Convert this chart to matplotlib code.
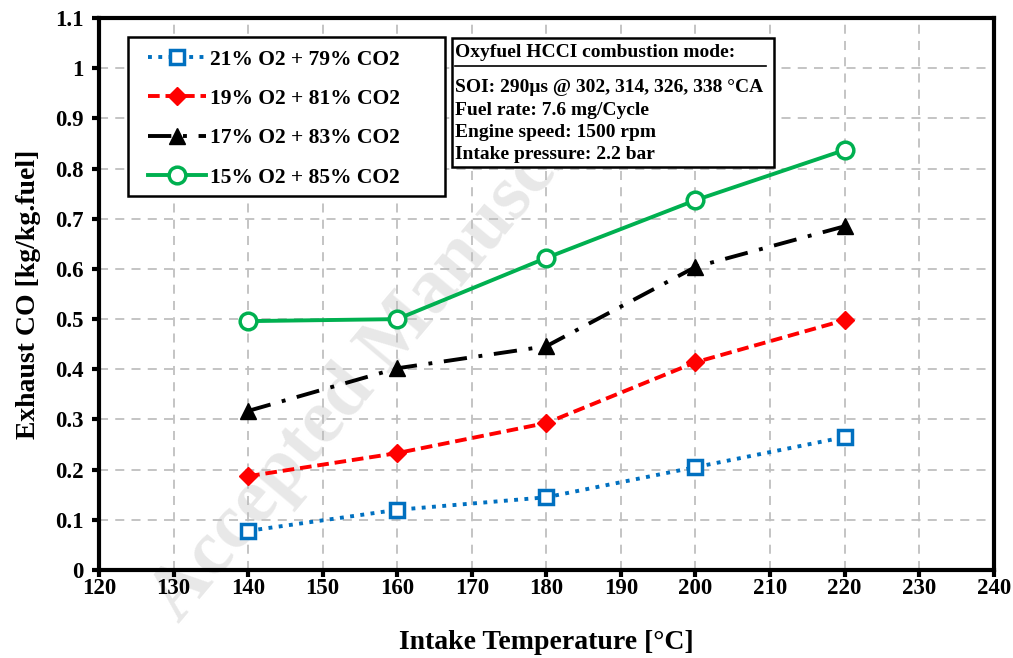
import matplotlib
matplotlib.use("Agg")
from matplotlib import pyplot as plt

plt.rcParams['font.family'] = ['Liberation Serif', 'DejaVu Serif']
plt.rcParams['font.weight'] = 'bold'

# Data.
temps = [140, 160, 180, 200, 220]
co_21 = [0.078, 0.120, 0.145, 0.205, 0.265]
co_19 = [0.187, 0.233, 0.293, 0.414, 0.498]
co_17 = [0.317, 0.402, 0.446, 0.604, 0.685]
co_15 = [0.496, 0.500, 0.622, 0.737, 0.837]

labels = ['21% O2 + 79% CO2', '19% O2 + 81% CO2',
          '17% O2 + 83% CO2', '15% O2 + 85% CO2']

fig = plt.figure(figsize=(10.13, 6.58), dpi=100)
ax = fig.add_axes([0.0977, 0.1337, 0.8833, 0.8389])

# faint watermark, behind the data
ax.text(0.33, 0.42, 'Accepted Manuscript', transform=ax.transAxes, fontsize=56,
        color='#e8e8e8', rotation=50, ha='center', va='center', zorder=0.5,
        clip_on=False)

ax.plot(temps, co_21, color='#0070c0', ls=':', lw=2.8, marker='s', ms=10,
        mfc='white', mec='#0070c0', mew=2.5, label=labels[0], zorder=3)
ax.plot(temps, co_19, color='#ff0000', ls=(0, (3, 1.5)), lw=2.8, marker='D', ms=9,
        mfc='#ff0000', mec='#ff0000', label=labels[1], zorder=3)
ax.plot(temps, co_17, color='black', ls=(0, (6, 3, 1, 3)), lw=2.8, marker='^', ms=11,
        label=labels[2], zorder=3)
ax.plot(temps, co_15, color='#00b050', ls='-', lw=2.8, marker='o', ms=12,
        mfc='white', mec='#00b050', mew=2.5, label=labels[3], zorder=3)

ax.set_xlim(120, 240)
ax.set_ylim(0, 1.1)
ax.set_xticks(range(120, 241, 10))
ax.set_yticks([i / 10 for i in range(12)])
ax.set_yticklabels(['0', '0.1', '0.2', '0.3', '0.4', '0.5', '0.6', '0.7',
                    '0.8', '0.9', '1', '1.1'])
ax.tick_params(axis='both', labelsize=16.5, direction='out', length=5, width=3)
ax.tick_params(axis='x', pad=1)
ax.tick_params(axis='y', pad=6)
ax.grid(True, color='#bfbfbf', ls=(0, (5, 4)), lw=1.3)
for s in ax.spines.values():
    s.set_linewidth(3)

ax.set_xlabel('Intake Temperature [°C]', fontsize=20, fontweight='bold', labelpad=22)
ax.set_ylabel('Exhaust CO [kg/kg.fuel]', fontsize=20, fontweight='bold', labelpad=10)

# legend box drawn separately so its padding matches
ax.add_patch(plt.Rectangle((0.0324, 0.6775), 0.3542, 0.2881, transform=ax.transAxes,
                           facecolor='white', edgecolor='black', lw=1.8, zorder=4))
leg = ax.legend(loc='upper left', bbox_to_anchor=(0.0545, 0.943), fontsize=15.5,
                frameon=False, handlelength=2.7, labelspacing=0.9, borderpad=0,
                borderaxespad=0, handletextpad=0.2)
leg.set_zorder(5)

ax.add_patch(plt.Rectangle((0.394, 0.731), 0.36, 0.232, transform=ax.transAxes,
                           facecolor='white', edgecolor='black', lw=1.8, zorder=4))
ax.text(0.398, 0.953, 'Oxyfuel HCCI combustion mode:', transform=ax.transAxes,
        fontsize=14, fontweight='bold', va='top', ha='left', zorder=5)
ax.plot([0.398, 0.746], [0.913, 0.913], transform=ax.transAxes, color='black', lw=1.2, zorder=5)
ax.text(0.398, 0.889, 'SOI: 290μs @ 302, 314, 326, 338 °CA\nFuel rate: 7.6 mg/Cycle\n'
        'Engine speed: 1500 rpm\nIntake pressure: 2.2 bar', transform=ax.transAxes,
        fontsize=14, fontweight='bold', va='top', ha='left', linespacing=1.4, zorder=5)

fig.savefig('out.png', dpi=100)
